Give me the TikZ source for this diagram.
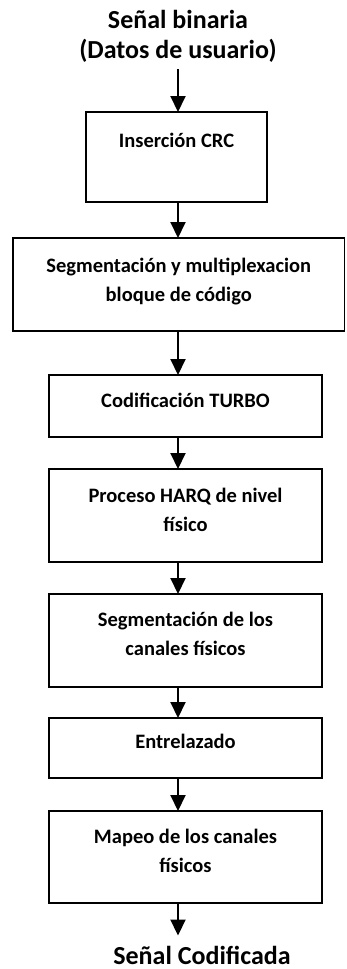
\documentclass[tikz,border=0pt]{standalone}
\usepackage{fontspec}
\setmainfont{Carlito}
\usetikzlibrary{arrows.meta}

\tikzset{
  blk/.style={draw=black, line width=1.6pt, inner sep=0pt, outer sep=0pt},
  lbl/.style={font=\fontsize{20.5}{29}\selectfont\bfseries, align=center, anchor=base, inner sep=0pt},
  ttl/.style={font=\fontsize{26}{30}\selectfont\bfseries, align=center, anchor=base, inner sep=0pt},
  flow/.style={line width=2pt, -{Triangle[length=16pt, width=15pt]}},
}

\begin{document}
\begin{tikzpicture}[x=1pt, y=-1pt]
\useasboundingbox (0,0) rectangle (346,969);
\coordinate (axis) at (178,0);
% entrada (base = ultima linea)
\node[ttl] (sig) at (178,58) {Señal binaria\\(Datos de usuario)};
% bloques
\node[blk, minimum width=181pt, minimum height=90pt] (crc) at (176.5,157) {};
\node[lbl] (crct) at (176.5,147) {Inserción CRC};
\node[blk, minimum width=331.5pt, minimum height=93pt] (seg) at (178.75,284.5) {};
\node[lbl] (segt) at (178.75,301) {Segmentación y multiplexacion\\bloque de código};
\node[blk, minimum width=273pt, minimum height=62pt] (turbo) at (185.5,406) {};
\node[lbl] (turbot) at (185.5,407) {Codificación TURBO};
\node[blk, minimum width=273pt, minimum height=93pt] (harq) at (185.5,515.5) {};
\node[lbl] (harqt) at (185.5,531) {Proceso HARQ de nivel\\físico};
\node[blk, minimum width=273pt, minimum height=93pt] (canal) at (185.5,640.5) {};
\node[lbl] (canalt) at (185.5,655) {Segmentación de los\\canales físicos};
\node[blk, minimum width=273pt, minimum height=60pt] (intl) at (185.5,748) {};
\node[lbl] (intlt) at (185.5,748) {Entrelazado};
\node[blk, minimum width=273pt, minimum height=92pt] (mapeo) at (185.5,857) {};
\node[lbl] (mapeot) at (185.5,872) {Mapeo de los canales\\físicos};
% salida
\node[ttl] (out) at (202,964) {Señal Codificada};
% flechas
\draw[flow, shorten <=7pt] (sig.south -| axis) -- (crc.north -| axis);
\draw[flow] (crc.south -| axis) -- (seg.north -| axis);
\draw[flow] (seg.south -| axis) -- (turbo.north -| axis);
\draw[flow] (turbo.south -| axis) -- (harq.north -| axis);
\draw[flow] (harq.south -| axis) -- (canal.north -| axis);
\draw[flow] (canal.south -| axis) -- (intl.north -| axis);
\draw[flow] (intl.south -| axis) -- (mapeo.north -| axis);
\draw[flow, shorten >=10pt] (mapeo.south -| axis) -- (out.north -| axis);
\end{tikzpicture}
\end{document}
